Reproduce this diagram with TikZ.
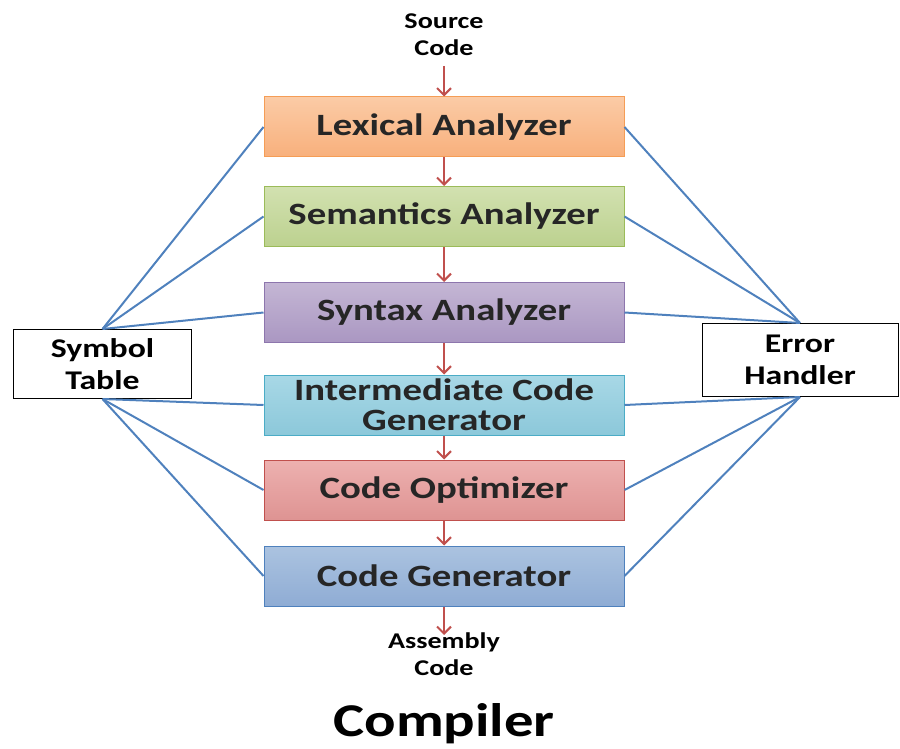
\documentclass[tikz,border=0pt]{standalone}
\usepackage{fontspec}
\setmainfont{Carlito}[FakeStretch=1.25]
\usetikzlibrary{arrows.meta}

\definecolor{linkblue}{HTML}{4F81BD}
\definecolor{flowred}{HTML}{C0504D}
\definecolor{lexA}{HTML}{FBCBA6}\definecolor{lexB}{HTML}{F8B07C}\definecolor{lexD}{HTML}{F59D56}
\definecolor{semA}{HTML}{D2E1B0}\definecolor{semB}{HTML}{BCD18F}\definecolor{semD}{HTML}{9BBB59}
\definecolor{synA}{HTML}{C4B6D4}\definecolor{synB}{HTML}{AA97C2}\definecolor{synD}{HTML}{8D76AD}
\definecolor{intA}{HTML}{A8D8E6}\definecolor{intB}{HTML}{8CC8DA}\definecolor{intD}{HTML}{4BACC6}
\definecolor{optA}{HTML}{EDB1B0}\definecolor{optB}{HTML}{DE9392}\definecolor{optD}{HTML}{C0504D}
\definecolor{genA}{HTML}{ABC3E0}\definecolor{genB}{HTML}{8FACD4}\definecolor{genD}{HTML}{4F81BD}

\tikzset{
  phase/.style n args={3}{draw=#3, line width=1pt, top color=#1, bottom color=#2,
    minimum width=360pt, minimum height=60pt, inner sep=0pt, align=center,
    font=\bfseries\fontsize{31}{31}\selectfont, text=black!85},
  sidebox/.style={draw=black, line width=1pt, fill=white, inner sep=0pt, align=center,
    font=\bfseries\fontsize{27}{32}\selectfont},
  ioText/.style={align=center, font=\bfseries\fontsize{22.5}{27}\selectfont},
  flow/.style={draw=flowred, line width=2pt, -{Straight Barb[length=7pt,width=14pt,line width=2pt]}},
  link/.style={draw=linkblue, line width=2pt}
}

\begin{document}
\begin{tikzpicture}[x=1pt,y=1pt]
  \path[use as bounding box] (0,0) rectangle (900,-749);

  % compiler phases
  \node[phase={lexA}{lexB}{lexD}] (lex) at (444,-127) {Lexical Analyzer};
  \node[phase={semA}{semB}{semD}] (sem) at (444,-216.5) {Semantics Analyzer};
  \node[phase={synA}{synB}{synD}] (syn) at (444,-312.5) {Syntax Analyzer};
  \node[phase={intA}{intB}{intD}] (inter) at (444,-405) {Intermediate Code\\[-1pt]Generator};
  \node[phase={optA}{optB}{optD}] (opt) at (444,-490) {Code Optimizer};
  \node[phase={genA}{genB}{genD}] (gen) at (444,-576) {Code Generator};

  % side boxes
  \node[sidebox, minimum width=178pt, minimum height=69pt] (sym) at (102.5,-364) {Symbol\\Table};
  \node[sidebox, minimum width=196pt, minimum height=73pt] (err) at (800,-360) {Error\\Handler};

  % input / output
  \node[ioText] (src) at (444,-35) {Source\\Code};
  \node[ioText] (asm) at (444,-654) {Assembly\\Code};
  \node[anchor=base, font=\bfseries\fontsize{47}{47}\selectfont] (title) at (444,-736) {Compiler};

  % connections to the symbol table
  \foreach \p in {lex,sem,syn} \draw[link] (sym.north) -- (\p.west);
  \foreach \p in {inter,opt,gen} \draw[link] (sym.south) -- (\p.west);
  % connections to the error handler
  \foreach \p in {lex,sem,syn} \draw[link] (err.north) -- (\p.east);
  \foreach \p in {inter,opt,gen} \draw[link] (err.south) -- (\p.east);

  % data flow
  \coordinate (srcEnd) at (444,-66);
  \draw[flow] (srcEnd) -- (lex.north);
  \draw[flow] (lex) -- (sem);
  \draw[flow] (sem) -- (syn);
  \draw[flow] (syn) -- (inter);
  \draw[flow] (inter) -- (opt);
  \draw[flow] (opt) -- (gen);
  \coordinate (genOut) at (444,-635);
  \draw[flow] (gen.south) -- (genOut);
\end{tikzpicture}
\end{document}
